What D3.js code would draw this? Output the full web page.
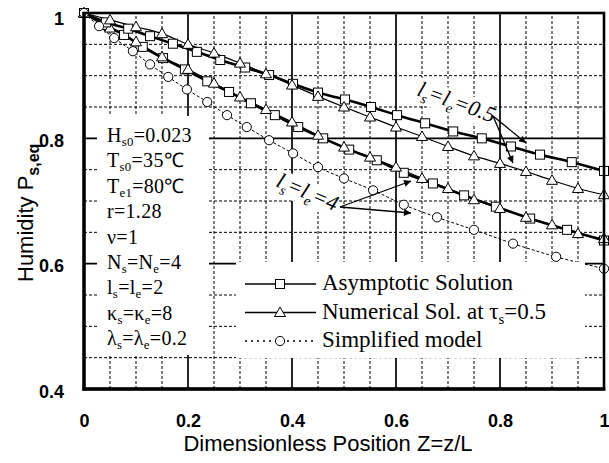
<!DOCTYPE html>
<html>
<head>
<meta charset="utf-8">
<script src="https://cdn.jsdelivr.net/npm/d3@7"></script>
<style>
  body { margin: 0; background: #fff; }
  text { fill: #000; }
</style>
</head>
<body>
<svg id="chart" width="609" height="463"></svg>
<script>
// asymptotic solution, ls=le=0.5 (squares)
const zAsym05 = [0, 0.042, 0.085, 0.127, 0.171, 0.217, 0.262, 0.310, 0.356, 0.402, 0.450, 0.502, 0.552, 0.602, 0.656, 0.710, 0.765, 0.821, 0.877, 0.938, 1.0];
const pAsym05 = [1.0, 0.985, 0.975, 0.963, 0.951, 0.938, 0.925, 0.913, 0.901, 0.887, 0.873, 0.862, 0.850, 0.837, 0.824, 0.811, 0.800, 0.787, 0.774, 0.762, 0.748];
// numerical, ls=le=0.5 (triangles)
const zNum05 = [0, 0.05, 0.10, 0.15, 0.20, 0.25, 0.30, 0.35, 0.40, 0.45, 0.50, 0.55, 0.60, 0.65, 0.70, 0.75, 0.80, 0.85, 0.90, 0.95, 1.0];
const pNum05 = [1.0, 0.989, 0.978, 0.967, 0.950, 0.936, 0.920, 0.903, 0.885, 0.867, 0.850, 0.834, 0.818, 0.803, 0.787, 0.772, 0.760, 0.747, 0.733, 0.720, 0.710];
// asymptotic solution, ls=le=4 (squares)
const zAsym4 = [0, 0.040, 0.077, 0.113, 0.152, 0.194, 0.237, 0.279, 0.321, 0.367, 0.412, 0.460, 0.510, 0.563, 0.615, 0.671, 0.731, 0.792, 0.858, 0.929, 1.0];
const pAsym4 = [1.0, 0.981, 0.965, 0.946, 0.928, 0.910, 0.891, 0.874, 0.856, 0.837, 0.818, 0.800, 0.782, 0.765, 0.745, 0.728, 0.709, 0.691, 0.672, 0.654, 0.637];
// numerical, ls=le=4 (triangles)
const zNum4 = [0, 0.05, 0.10, 0.15, 0.20, 0.25, 0.30, 0.35, 0.40, 0.45, 0.50, 0.55, 0.60, 0.65, 0.70, 0.75, 0.80, 0.85, 0.90, 0.95, 1.0];
const pNum4 = [1.0, 0.976, 0.954, 0.930, 0.910, 0.888, 0.866, 0.846, 0.826, 0.805, 0.786, 0.770, 0.754, 0.736, 0.720, 0.702, 0.688, 0.674, 0.662, 0.648, 0.640];
// simplified model (circles)
const zSimp = [0, 0.029, 0.058, 0.094, 0.127, 0.162, 0.198, 0.237, 0.275, 0.313, 0.356, 0.402, 0.450, 0.500, 0.556, 0.615, 0.679, 0.750, 0.825, 0.908, 1.0];
const pSimp = [1.0, 0.979, 0.960, 0.939, 0.918, 0.898, 0.878, 0.858, 0.837, 0.818, 0.797, 0.776, 0.754, 0.736, 0.717, 0.694, 0.674, 0.654, 0.632, 0.611, 0.592];

const xTicks = [0, 0.2, 0.4, 0.6, 0.8, 1];
const yTicks = [0.4, 0.6, 0.8, 1];
const legendLabels = [
  [['Asymptotic Solution']],
  [['Numerical Sol. at τ'], ['s', 'sub'], ['=0.5']],
  [['Simplified model']]
];
const paramLines = [
  [['H'], ['s0', 'sub'], ['=0.023']],
  [['T'], ['s0', 'sub'], ['=35℃']],
  [['T'], ['e1', 'sub'], ['=80℃']],
  [['r=1.28']],
  [['ν=1']],
  [['N'], ['s', 'sub'], ['=N'], ['e', 'sub'], ['=4']],
  [['l'], ['s', 'sub'], ['=l'], ['e', 'sub'], ['=2']],
  [['κ'], ['s', 'sub'], ['=κ'], ['e', 'sub'], ['=8']],
  [['λ'], ['s', 'sub'], ['=λ'], ['e', 'sub'], ['=0.2']]
];
const note05 = [['l'], ['s', 'sub'], ['=l'], ['e', 'sub'], ['=0.5']];
const note4 = [['l'], ['s', 'sub'], ['=l'], ['e', 'sub'], ['=4']];

const svg = d3.select('#chart');
const x = d3.scaleLinear().domain([0, 1]).range([84, 604]);
const y = d3.scaleLinear().domain([0.4, 1]).range([389, 13]);
const serif = '"Liberation Serif", "Times New Roman", serif';
const sans = '"Liberation Sans", Arial, sans-serif';

// write text pieces with subscripts as tspans
function richText(sel, parts, size, shift) {
  parts.forEach(p => {
    const t = sel.append('tspan').text(p[0]);
    if (p[1] === 'sub') {
      t.attr('font-size', size * 0.64).attr('dy', size * shift);
    } else if (sel.selectAll('tspan').size() > 1) {
      t.attr('dy', -size * shift);
    }
  });
}

// grid
const grid = svg.append('g');
const isMajor = v => Math.abs(v * 5 - Math.round(v * 5)) < 1e-6;
d3.range(1, 20).map(i => i * 0.05).forEach(v => {
  grid.append('line')
    .attr('x1', x(v)).attr('x2', x(v)).attr('y1', y(0.4)).attr('y2', y(1))
    .attr('stroke', '#000')
    .attr('stroke-width', isMajor(v) ? 1.7 : 1)
    .attr('stroke-dasharray', isMajor(v) ? null : '3,2');
});
d3.range(9, 20).map(i => i * 0.05).forEach(v => {
  grid.append('line')
    .attr('x1', x(0)).attr('x2', x(1)).attr('y1', y(v)).attr('y2', y(v))
    .attr('stroke', '#000')
    .attr('stroke-width', isMajor(v) ? 1.7 : 1)
    .attr('stroke-dasharray', isMajor(v) ? null : '3,2');
});

// curves
const line = d3.line().x(d => x(d[0])).y(d => y(d[1])).curve(d3.curveMonotoneX);
const series = [
  { z: zAsym4, p: pAsym4, w: 2.6, dash: null, mark: 'square' },
  { z: zNum4, p: pNum4, w: 1.2, dash: null, mark: 'triangle' },
  { z: zAsym05, p: pAsym05, w: 2.6, dash: null, mark: 'square' },
  { z: zNum05, p: pNum05, w: 1.2, dash: null, mark: 'triangle' },
  { z: zSimp, p: pSimp, w: 1, dash: '3,2', mark: 'circle' }
];

function drawMark(g, type, cx, cy) {
  if (type === 'square') {
    g.append('rect').attr('x', cx - 4.5).attr('y', cy - 4.5).attr('width', 9).attr('height', 9)
      .attr('fill', '#fff').attr('stroke', '#000').attr('stroke-width', 1);
  } else if (type === 'triangle') {
    g.append('path').attr('d', `M${cx},${cy - 5.5}L${cx + 5.5},${cy + 4}L${cx - 5.5},${cy + 4}Z`)
      .attr('fill', '#fff').attr('stroke', '#000').attr('stroke-width', 1);
  } else {
    g.append('circle').attr('cx', cx).attr('cy', cy).attr('r', 4.6)
      .attr('fill', '#fff').attr('stroke', '#000').attr('stroke-width', 1);
  }
}

series.forEach(s => {
  const pts = s.z.map((z, i) => [z, s.p[i]]);
  svg.append('path').datum(pts)
    .attr('d', line).attr('fill', 'none').attr('stroke', '#000')
    .attr('stroke-width', s.w).attr('stroke-dasharray', s.dash);
});
series.forEach(s => {
  const g = svg.append('g');
  s.z.forEach((z, i) => drawMark(g, s.mark, x(z), y(s.p[i])));
});

// parameter box
svg.append('rect').attr('x', 97).attr('y', 116).attr('width', 112).attr('height', 239).attr('fill', '#fff');
paramLines.forEach((ln, i) => {
  const t = svg.append('text').attr('x', 107).attr('y', 142 + i * 25.4)
    .attr('font-family', serif).attr('font-size', 20).attr('letter-spacing', 0.3);
  richText(t, ln, 20, 0.2);
});

// legend
svg.append('rect').attr('x', 236).attr('y', 262).attr('width', 349).attr('height', 96).attr('fill', '#fff');
const legMarks = ['square', 'triangle', 'circle'];
legendLabels.forEach((lab, i) => {
  const by = 290 + i * 28.5;
  const cy = by - 6;
  svg.append('line').attr('x1', 245).attr('x2', 316).attr('y1', cy).attr('y2', cy)
    .attr('stroke', '#000').attr('stroke-width', 1.4)
    .attr('stroke-dasharray', i === 2 ? '2,4' : null);
  drawMark(svg, legMarks[i], 280, cy);
  const t = svg.append('text').attr('x', 322).attr('y', by)
    .attr('font-family', serif).attr('font-size', 23);
  richText(t, lab, 23, 0.22);
});

// annotations
function note(parts, px, py, ang, w) {
  const g = svg.append('g').attr('transform', `translate(${px},${py}) rotate(${ang})`);
  g.append('rect').attr('x', -3).attr('y', -18).attr('width', w).attr('height', 25).attr('fill', '#fff');
  const t = g.append('text').attr('font-family', serif).attr('font-style', 'italic').attr('font-size', 22);
  richText(t, parts, 22, 0.25);
}
note(note05, 416, 95, 20, 80);
note(note4, 275, 186, 23, 66);

svg.append('defs').append('marker')
  .attr('id', 'arr').attr('viewBox', '0 0 10 10').attr('refX', 10).attr('refY', 5)
  .attr('markerWidth', 9).attr('markerHeight', 7).attr('markerUnits', 'userSpaceOnUse')
  .attr('orient', 'auto')
  .append('path').attr('d', 'M0,0L10,5L0,10Z').attr('fill', '#000');
const arrows = [
  [493, 116, 526, 143], [493, 116, 513, 163],
  [340, 207, 411, 181], [340, 207, 411, 213]
];
arrows.forEach(a => {
  svg.append('line').attr('x1', a[0]).attr('y1', a[1]).attr('x2', a[2]).attr('y2', a[3])
    .attr('stroke', '#000').attr('stroke-width', 1.3).attr('marker-end', 'url(#arr)');
});

// frame
svg.append('rect').attr('x', x(0)).attr('y', y(1)).attr('width', x(1) - x(0)).attr('height', y(0.4) - y(1))
  .attr('fill', 'none').attr('stroke', '#000').attr('stroke-width', 2.6);
svg.append('line').attr('x1', x(0)).attr('x2', x(0)).attr('y1', y(1) - 1).attr('y2', y(0.4) + 1.5)
  .attr('stroke', '#000').attr('stroke-width', 3.4);
svg.append('line').attr('x1', x(0) - 1.5).attr('x2', x(1) + 1.3).attr('y1', y(0.4)).attr('y2', y(0.4))
  .attr('stroke', '#000').attr('stroke-width', 3.4);

// axes labels
const fmt = d => d3.format('~g')(d);
const xAxis = svg.append('g').attr('transform', `translate(0,${y(0.4)})`)
  .call(d3.axisBottom(x).tickValues(xTicks).tickFormat(fmt).tickSize(0).tickPadding(25));
xAxis.select('.domain').remove();
xAxis.selectAll('text').attr('font-family', sans).attr('font-weight', 'bold').attr('font-size', 18).attr('fill', '#000');

const yAxis = svg.append('g').attr('transform', 'translate(64,0)')
  .call(d3.axisLeft(y).tickValues(yTicks).tickFormat(fmt).tickSize(0).tickPadding(0));
yAxis.select('.domain').remove();
yAxis.selectAll('text').attr('font-family', sans).attr('font-weight', 'bold').attr('font-size', 18)
  .attr('fill', '#000').attr('dy', d => d === 1 ? '0.62em' : '0.45em');

svg.append('text').attr('x', 328).attr('y', 451).attr('text-anchor', 'middle')
  .attr('font-family', sans).attr('font-size', 22).text('Dimensionless Position  Z=z/L');

const yt = svg.append('text').attr('transform', 'translate(33,282) rotate(-90)')
  .attr('font-family', sans).attr('font-size', 22);
yt.append('tspan').text('Humidity  P');
yt.append('tspan').text('s,eq').attr('font-weight', 'bold').attr('font-size', 16).attr('dy', 6);
</script>
</body>
</html>
